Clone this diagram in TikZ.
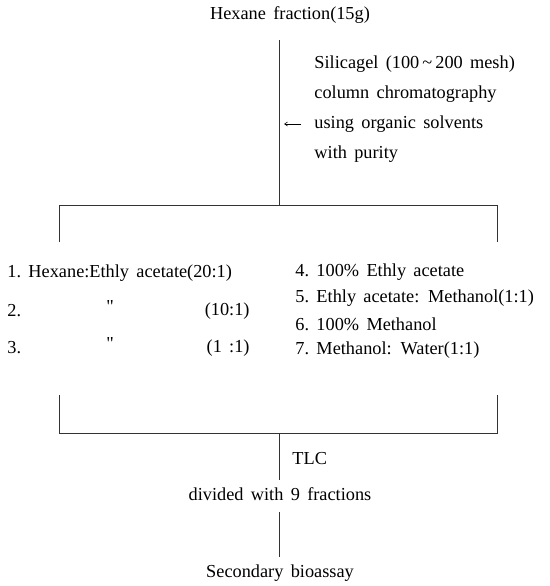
\documentclass[tikz,border=0pt]{standalone}
\usepackage{fontspec}
\setmainfont[WordSpace=1.6]{Liberation Serif}
\usetikzlibrary{positioning,arrows.meta}

\begin{document}
\begin{tikzpicture}[
    x = 1pt, y = -1pt,
    > = {Straight Barb[length=3pt,width=4pt]},
    line width = 0.9pt,
    txt/.style = {inner sep=0pt, font=\fontsize{18.3}{21}\selectfont},
    item/.style = {txt, anchor=west},
    link/.style = {draw=black!80}
]
    \useasboundingbox (0,0) rectangle (549,586);

    % extract and column
    \node[txt] (hex) at (290,15) {Hexane fraction(15g)};
    \node[txt, anchor=north west, align=left, font=\fontsize{18.3}{30}\selectfont]
        (col) at (314,55) {Silicagel (100\,\textasciitilde\,200 mesh)\\column chromatography\\using organic solvents\\with purity};
    \coordinate (top) at (279,40);
    \coordinate (split) at (279,205);
    \coordinate (lt) at (59,205);
    \coordinate (rt) at (497,205);
    \coordinate (ld) at (59,242);
    \coordinate (rd) at (497,242);
    \coordinate (a1) at (301,124);
    \coordinate (a0) at (284,124);
    \path[link] (top) -- (split);
    \path[link] (ld) -- (lt) -- (rt) -- (rd);
    \draw[->, line width=0.6pt] (a1) -- (a0);

    % eluents
    \node[item] (e1) at (7,273) {1.\ Hexane:Ethly acetate(20:1)};
    \node[item] (e2) at (7,311) {2.};
    \node[txt] (q2) at (110,307) {\textquotedbl};
    \node[txt, anchor=east] (r2) at (250,311) {(10:1)};
    \node[item] (e3) at (7,348) {3.};
    \node[txt] (q3) at (110,344) {\textquotedbl};
    \node[txt, anchor=east] (r3) at (250,348) {(1 :1)};
    \node[item] (e4) at (295,272) {4.\ 100\%\ Ethly acetate};
    \node[item] (e5) at (295,298) {5.\ Ethly acetate: Methanol(1:1)};
    \node[item] (e6) at (295,324) {6.\ 100\%\ Methanol};
    \node[item] (e7) at (295,350) {7.\ Methanol: Water(1:1)};

    % pooling
    \coordinate (lu) at (59,395);
    \coordinate (ru) at (497,395);
    \coordinate (lb) at (59,433);
    \coordinate (rb) at (497,433);
    \coordinate (join) at (279,433);
    \coordinate (tlcend) at (279,480);
    \path[link] (lu) -- (lb) -- (rb) -- (ru);
    \path[link] (join) -- (tlcend);
    \node[item] (tlc) at (292,459) {TLC};

    \node[txt] (div) at (280,494) {divided with 9 fractions};
    \coordinate (d0) at (279,512);
    \coordinate (d1) at (279,557);
    \path[link] (d0) -- (d1);
    \node[txt] (bio) at (280,573) {Secondary bioassay};
\end{tikzpicture}
\end{document}
